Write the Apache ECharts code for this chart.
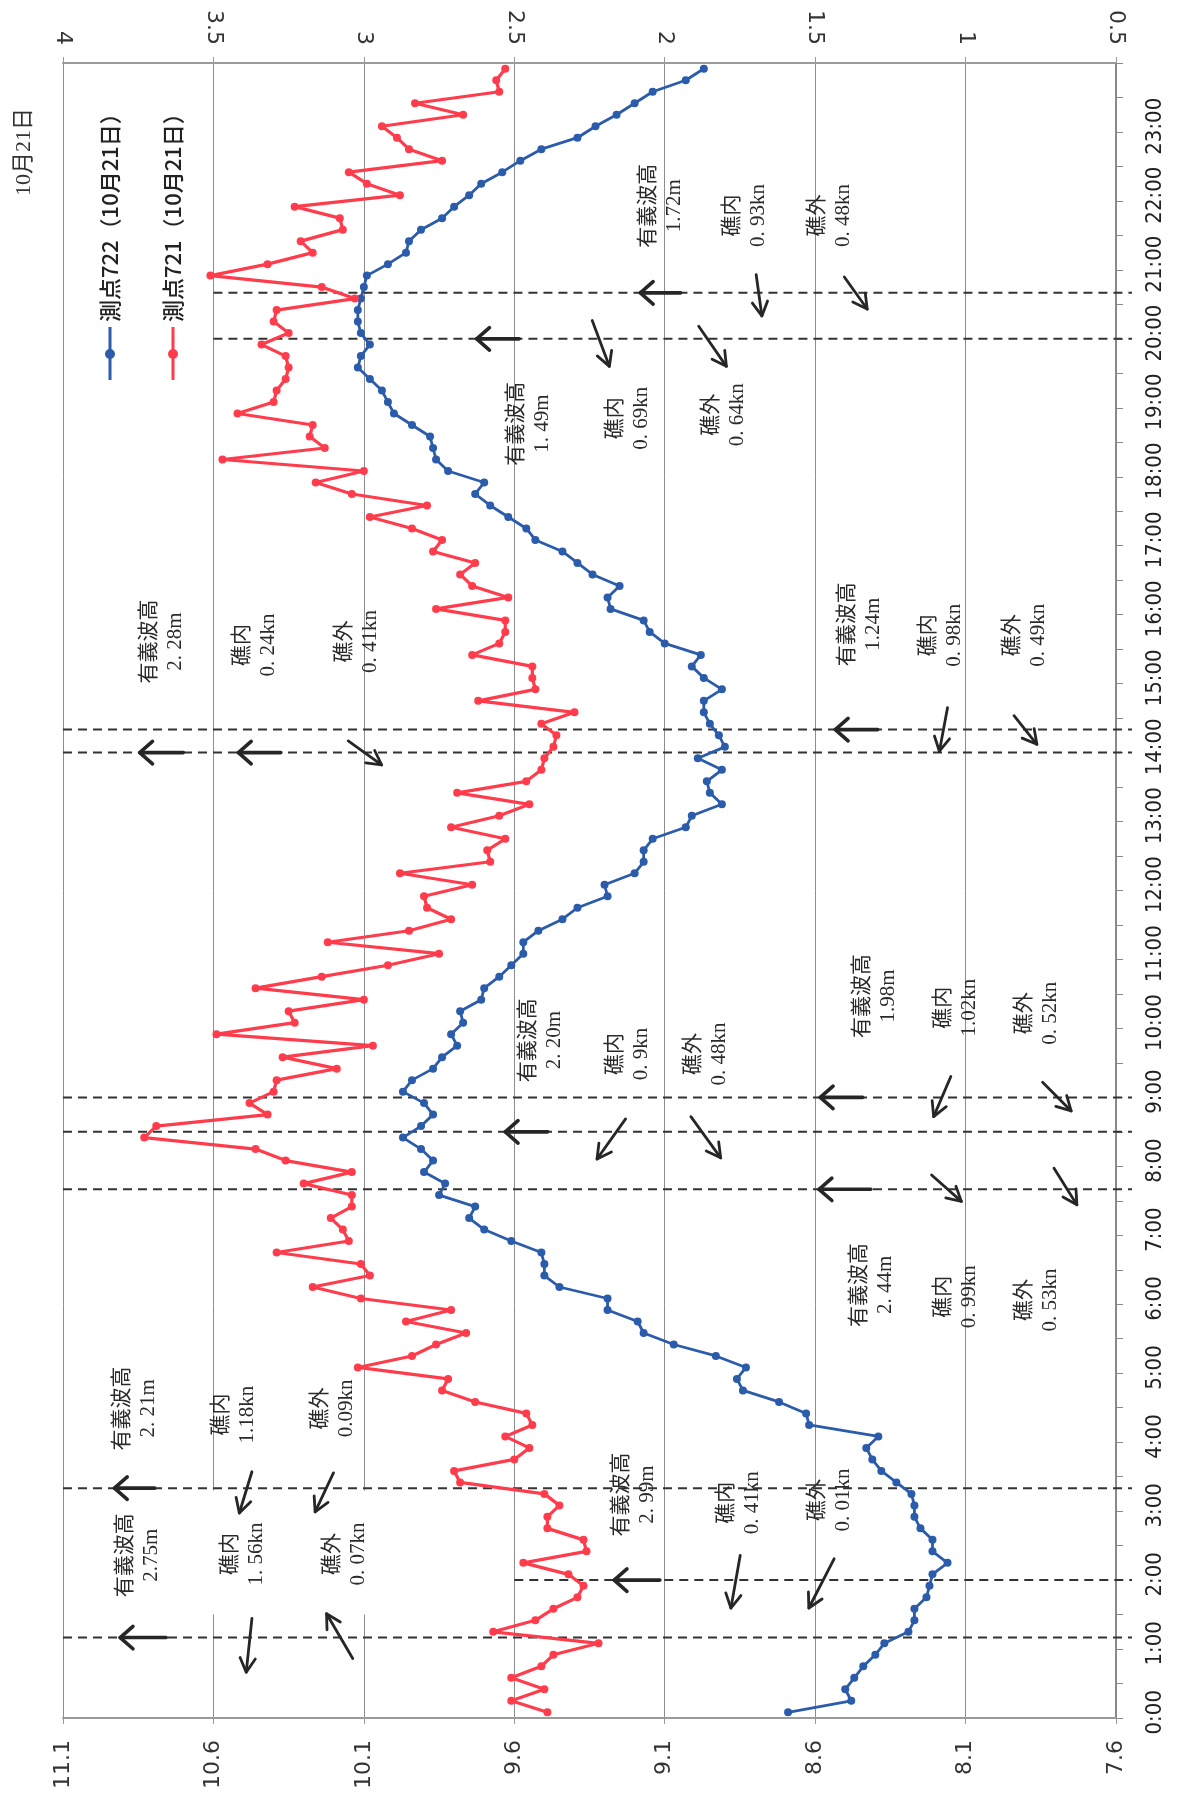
<!DOCTYPE html>
<html>
<head>
<meta charset="utf-8">
<script src="https://cdn.jsdelivr.net/npm/echarts@6/dist/echarts.min.js"></script>
<style>
  html, body { margin: 0; padding: 0; background: #ffffff; }
  #chart { width: 1180px; height: 1797px; }
</style>
</head>
<body>
<div id="chart"></div>
<script>
// 10-minute reading slots through the day (category axis)
const timeSlots = [];
for (let h = 0; h < 24; h++) {
  for (let m = 0; m < 60; m += 10) timeSlots.push(h + ':' + String(m).padStart(2, '0'));
}

// Station 722 (blue) readings, one per slot
const station722 = [
  8.69, 8.48, 8.50, 8.47, 8.44, 8.40, 8.37, 8.29, 8.27, 8.27, 8.23, 8.22,
  8.21, 8.16, 8.21, 8.21, 8.25, 8.27, 8.27, 8.28, 8.33, 8.38, 8.41, 8.43,
  8.39, 8.62, 8.63, 8.72, 8.84, 8.86, 8.83, 8.93, 9.07, 9.17, 9.19, 9.29,
  9.29, 9.45, 9.50, 9.50, 9.51, 9.61, 9.70, 9.75, 9.73, 9.85, 9.83, 9.90,
  9.87, 9.91, 9.97, 9.91, 9.87, 9.90, 9.97, 9.94, 9.87, 9.84, 9.79, 9.81,
  9.77, 9.78, 9.71, 9.70, 9.65, 9.61, 9.57, 9.57, 9.52, 9.44, 9.39, 9.29,
  9.30, 9.20, 9.17, 9.17, 9.14, 9.03, 9.01, 8.91, 8.95, 8.96, 8.91, 8.99,
  8.90, 8.92, 8.95, 8.97, 8.97, 8.91, 8.97, 9.01, 8.98, 9.10, 9.15, 9.17,
  9.28, 9.29, 9.25, 9.34, 9.39, 9.44, 9.53, 9.56, 9.62, 9.68, 9.73, 9.70,
  9.82, 9.86, 9.87, 9.88, 9.94, 10.00, 10.02, 10.04, 10.08, 10.12, 10.11, 10.08,
  10.11, 10.12, 10.12, 10.11, 10.10, 10.09, 10.02, 9.96, 9.95, 9.91, 9.84, 9.80,
  9.75, 9.71, 9.64, 9.58, 9.51, 9.39, 9.33, 9.26, 9.20, 9.14, 9.03, 8.97
];

// Station 721 (red) readings, one per slot
const station721 = [
  9.49, 9.61, 9.50, 9.61, 9.51, 9.47, 9.32, 9.67, 9.53, 9.47, 9.39, 9.37,
  9.42, 9.57, 9.36, 9.37, 9.49, 9.49, 9.45, 9.50, 9.78, 9.80, 9.60, 9.55,
  9.63, 9.54, 9.56, 9.73, 9.84, 9.82, 10.12, 9.94, 9.86, 9.76, 9.96, 9.81,
  10.11, 10.27, 10.08, 10.11, 10.39, 10.15, 10.17, 10.21, 10.14, 10.14, 10.30, 10.14,
  10.36, 10.46, 10.83, 10.79, 10.42, 10.48, 10.40, 10.39, 10.19, 10.37, 10.07, 10.59,
  10.33, 10.35, 10.10, 10.46, 10.24, 10.02, 9.85, 10.22, 9.95, 9.81, 9.89, 9.90,
  9.74, 9.98, 9.68, 9.69, 9.63, 9.81, 9.65, 9.55, 9.79, 9.56, 9.51, 9.50,
  9.47, 9.46, 9.51, 9.40, 9.72, 9.53, 9.54, 9.54, 9.74, 9.65, 9.63, 9.63,
  9.86, 9.62, 9.74, 9.78, 9.73, 9.87, 9.84, 9.94, 10.08, 9.89, 10.14, 10.26,
  10.10, 10.57, 10.23, 10.28, 10.27, 10.52, 10.40, 10.39, 10.36, 10.35, 10.36, 10.44,
  10.35, 10.40, 10.39, 10.13, 10.24, 10.61, 10.42, 10.27, 10.31, 10.17, 10.18, 10.33,
  9.98, 10.09, 10.15, 9.84, 9.95, 9.99, 10.04, 9.77, 9.93, 9.65, 9.66, 9.63
];

const seriesNames = ['測点722（10月21日）', '測点721（10月21日）'];
const chartTitle = '10月21日';

// Observation times (hours) marked by dashed lines, and the value where each line starts
const obsTimes = [7 / 6, 2, 10 / 3, 23 / 3, 8.5, 9, 14, 43 / 3, 20, 62 / 3];
const obsLineFrom = [11.1, 9.6, 11.1, 11.1, 11.1, 11.1, 11.1, 11.1, 10.6, 10.6];

// Observation notes: [value, hour, heading, reading]
const obsNotes = [
  [10.77, 15.61, '有義波高', '2. 28m'], [10.46, 15.56, '礁内', '0. 24kn'], [10.12, 15.61, '礁外', '0. 41kn'],
  [8.45, 15.86, '有義波高', '1.24m'], [8.18, 15.70, '礁内', '0. 98kn'], [7.90, 15.70, '礁外', '0. 49kn'],
  [10.86, 4.49, '有義波高', '2. 21m'], [10.53, 4.40, '礁内', '1.18kn'], [10.20, 4.49, '礁外', '0.09kn'],
  [10.85, 2.36, '有義波高', '2.75m'], [10.50, 2.38, '礁内', '1. 56kn'], [10.16, 2.38, '礁外', '0. 07kn'],
  [9.20, 3.24, '有義波高', '2. 99m'], [8.85, 3.12, '礁内', '0. 41kn'], [8.55, 3.16, '礁外', '0. 01kn'],
  [9.51, 9.83, '有義波高', '2. 20m'], [9.22, 9.63, '礁内', '0. 9kn'], [8.96, 9.63, '礁外', '0. 48kn'],
  [8.40, 10.47, '有義波高', '1.98m'], [8.13, 10.30, '礁内', '1.02kn'], [7.86, 10.22, '礁外', '0. 52kn'],
  [8.41, 6.28, '有義波高', '2. 44m'], [8.13, 6.11, '礁内', '0. 99kn'], [7.86, 6.06, '礁外', '0. 53kn'],
  [9.55, 18.77, '有義波高', '1. 49m'], [9.22, 18.85, '礁内', '0. 69kn'], [8.90, 18.90, '礁外', '0. 64kn'],
  [9.11, 21.93, '有義波高', '1.72m'], [8.83, 21.79, '礁内', '0. 93kn'], [8.55, 21.79, '礁外', '0. 48kn']
];

// White backing behind the 1:10 note block: [leftValue, rightValue, lowHour, highHour]
const noteBacking = [[10.95, 9.98, 1.5, 3.3]];

// Direction arrows: [fromValue, fromHour, toValue, toHour, heavy]
const obsArrows = [
  [10.757, 1.167, 10.910, 1.167, 1], [10.472, 1.445, 10.491, 0.664, 0], [10.137, 0.864, 10.224, 1.512, 0],
  [9.116, 2, 9.268, 2, 1], [8.849, 2.359, 8.880, 1.595, 0], [8.537, 2.309, 8.621, 1.595, 0],
  [10.795, 3.333, 10.929, 3.333, 1], [10.472, 3.571, 10.514, 2.973, 0], [10.201, 3.555, 10.262, 2.990, 0],
  [8.415, 7.667, 8.587, 7.667, 1], [8.213, 7.874, 8.114, 7.492, 0], [7.806, 7.973, 7.730, 7.442, 0],
  [9.489, 8.5, 9.630, 8.5, 1], [9.230, 8.688, 9.325, 8.106, 0], [9.013, 8.721, 8.914, 8.123, 0],
  [8.442, 9, 8.583, 9, 1], [8.149, 9.302, 8.206, 8.721, 0], [7.844, 9.219, 7.749, 8.804, 0],
  [10.700, 14, 10.845, 14, 1], [10.376, 14, 10.517, 14, 1], [10.152, 14.169, 10.041, 13.821, 0],
  [8.392, 14.333, 8.533, 14.333, 1], [8.160, 14.651, 8.187, 14.02, 0], [7.939, 14.535, 7.863, 14.12, 0],
  [9.584, 20, 9.725, 20, 1], [9.341, 20.266, 9.284, 19.601, 0], [8.987, 20.183, 8.895, 19.601, 0],
  [9.047, 20.667, 9.181, 20.667, 1], [8.796, 20.93, 8.777, 20.332, 0], [8.503, 20.897, 8.427, 20.432, 0]
];

const BLUE = '#2b5bab';
const RED = '#ff3c4c';
const GRID = '#8c8c8c';
const numFont = "'DejaVu Sans', Verdana, sans-serif";
const timeFont = "'Liberation Sans Narrow', 'DejaVu Sans Condensed', sans-serif";
const noteFont = "'Liberation Serif', 'Noto Sans CJK JP', serif";
const cjkFont = "'Noto Sans CJK JP', sans-serif";

const chart = echarts.init(document.getElementById('chart'), null, { renderer: 'canvas' });

const lineSeries = (name, values, color, width) => ({
  name: name,
  type: 'line',
  xAxisIndex: 0,
  yAxisIndex: 0,
  data: values.map((v, i) => [v, timeSlots[i]]),
  symbol: 'circle',
  symbolSize: 8,
  showAllSymbol: true,
  lineStyle: { color: color, width: width },
  itemStyle: { color: color },
  z: 3
});

chart.setOption({
  animation: false,
  backgroundColor: '#ffffff',
  grid: { left: 63, right: 64, top: 63, bottom: 79, containLabel: false },
  xAxis: [
    {
      type: 'value', position: 'bottom', min: 7.6, max: 11.1, interval: 0.5, inverse: true,
      axisLine: { show: true, lineStyle: { color: '#9a9a9a', width: 2 } },
      axisTick: { show: true, length: 6, lineStyle: { color: '#9a9a9a', width: 1 } },
      axisLabel: { rotate: 90, margin: 22, fontFamily: numFont, fontSize: 22, color: '#333',
                   formatter: v => v.toFixed(1) },
      splitLine: { show: true, showMinLine: true, showMaxLine: true, lineStyle: { color: GRID, width: 1 } }
    },
    {
      type: 'value', position: 'top', min: 0.5, max: 4, interval: 0.5, inverse: true,
      axisLine: { show: true, lineStyle: { color: '#9a9a9a', width: 2 } },
      axisTick: { show: true, length: 6, lineStyle: { color: '#9a9a9a', width: 1 } },
      axisLabel: { rotate: 90, margin: 18, fontFamily: numFont, fontSize: 22, color: '#333' },
      splitLine: { show: false }
    }
  ],
  yAxis: [
    {
      type: 'category', data: timeSlots, position: 'right', boundaryGap: true,
      axisLine: { show: true, lineStyle: { color: '#8a8a8a', width: 2 } },
      axisTick: { show: true, interval: 2, length: 7, inside: false, lineStyle: { color: '#8a8a8a', width: 1 } },
      axisLabel: { interval: 5, rotate: 90, margin: 28, fontFamily: timeFont, fontSize: 22, color: '#222' },
      splitLine: { show: false }
    },
    { type: 'value', min: 0, max: 24, show: false }
  ],
  series: [
    lineSeries(seriesNames[0], station722, BLUE, 2.8),
    lineSeries(seriesNames[1], station721, RED, 3.2)
  ]
});

// Overlay: observation lines, notes, arrows, legend and title
const toPx = (v, h) => chart.convertToPixel({ xAxisIndex: 0, yAxisIndex: 1 }, [v, h]);
const overlay = [];

noteBacking.forEach(b => {
  const p1 = toPx(b[0], b[3]);
  const p2 = toPx(b[1], b[2]);
  overlay.push({
    type: 'rect', z: 1, silent: true,
    shape: { x: p1[0], y: p1[1], width: p2[0] - p1[0], height: p2[1] - p1[1] },
    style: { fill: '#ffffff' }
  });
});

obsTimes.forEach((t, k) => {
  const a = toPx(obsLineFrom[k], t);
  const b = toPx(7.6, t);
  overlay.push({
    type: 'line', z: 1, silent: true,
    shape: { x1: a[0], y1: a[1], x2: b[0] + 16, y2: b[1] },
    style: { stroke: '#333', lineWidth: 2, lineDash: [9, 6] }
  });
});

obsNotes.forEach(n => {
  const p = toPx(n[0], n[1]);
  overlay.push({
    type: 'text', z: 6, x: p[0], y: p[1], rotation: Math.PI / 2,
    style: {
      text: n[2] + '\n' + n[3], fontFamily: noteFont, fontSize: 21, lineHeight: 26,
      fill: '#2a2a2a', textAlign: 'center', textVerticalAlign: 'middle', verticalAlign: 'middle'
    }
  });
});

obsArrows.forEach(a => {
  const p1 = toPx(a[0], a[1]);
  const p2 = toPx(a[2], a[3]);
  const ang = Math.atan2(p2[1] - p1[1], p2[0] - p1[0]);
  const len = a[4] ? 17 : 16;
  const spread = a[4] ? 0.72 : 0.5;
  const w1 = [p2[0] - len * Math.cos(ang - spread), p2[1] - len * Math.sin(ang - spread)];
  const w2 = [p2[0] - len * Math.cos(ang + spread), p2[1] - len * Math.sin(ang + spread)];
  const style = { stroke: '#262626', lineWidth: a[4] ? 3.6 : 2.8, lineCap: 'round', lineJoin: 'round', fill: null };
  overlay.push({ type: 'polyline', z: 6, shape: { points: [p1, p2] }, style: style });
  overlay.push({ type: 'polyline', z: 6, shape: { points: [w1, p2, w2] }, style: style });
});

// Legend entries, drawn in the same rotated reading direction as the rest of the chart
[[seriesNames[0], BLUE, 110], [seriesNames[1], RED, 173]].forEach(e => {
  overlay.push({
    type: 'group', x: e[2], y: 354, rotation: Math.PI / 2, z: 6,
    children: [
      { type: 'line', shape: { x1: -26, y1: 0, x2: 27, y2: 0 }, style: { stroke: e[1], lineWidth: 3 } },
      { type: 'circle', shape: { cx: 0, cy: 0, r: 5 }, style: { fill: e[1] } },
      { type: 'text', x: 32, y: 0, style: { text: e[0], fontFamily: cjkFont, fontSize: 22, fontWeight: 500,
        fill: '#222', textAlign: 'left', textVerticalAlign: 'middle', verticalAlign: 'middle' } }
    ]
  });
});

overlay.push({
  type: 'text', x: 24, y: 152, rotation: Math.PI / 2, z: 6,
  style: { text: chartTitle, fontFamily: noteFont, fontSize: 22, fill: '#333',
           textAlign: 'center', textVerticalAlign: 'middle', verticalAlign: 'middle' }
});

chart.setOption({ graphic: overlay });
</script>
</body>
</html>
